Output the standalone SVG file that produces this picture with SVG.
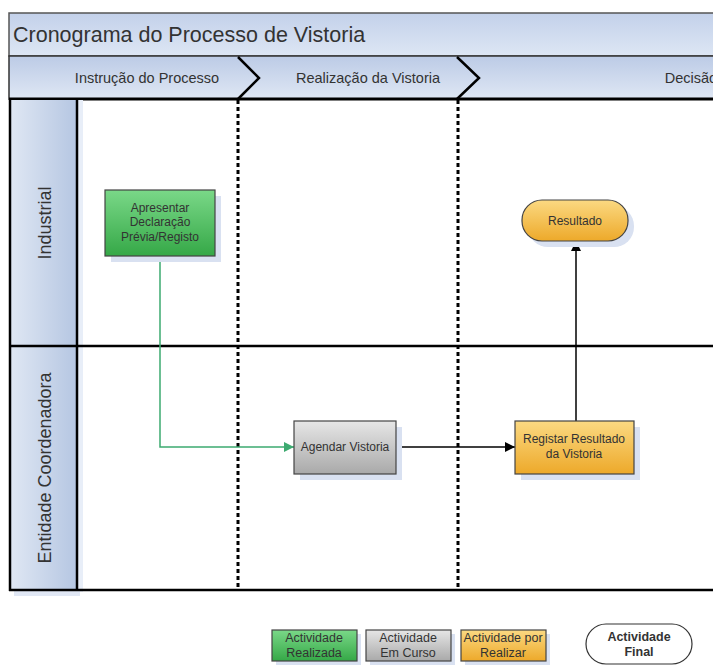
<svg xmlns="http://www.w3.org/2000/svg" width="713" height="666" viewBox="0 0 713 666">
<defs>
<linearGradient id="gTitle" x1="0" y1="0" x2="0" y2="1"><stop offset="0" stop-color="#c3d1ea"/><stop offset="1" stop-color="#dde6f4"/></linearGradient>
<linearGradient id="gPhase" x1="0" y1="0" x2="0" y2="1"><stop offset="0" stop-color="#bccbe6"/><stop offset="1" stop-color="#dfe7f4"/></linearGradient>
<linearGradient id="gLane" x1="0" y1="0" x2="1" y2="0"><stop offset="0" stop-color="#dfe7f3"/><stop offset="1" stop-color="#b5c6e2"/></linearGradient>
<linearGradient id="gGreen" x1="0" y1="0" x2="0" y2="1"><stop offset="0" stop-color="#7ad888"/><stop offset="1" stop-color="#35a847"/></linearGradient>
<linearGradient id="gGray" x1="0" y1="0" x2="0" y2="1"><stop offset="0" stop-color="#e6e6e6"/><stop offset="1" stop-color="#a9a9a9"/></linearGradient>
<linearGradient id="gOrange" x1="0" y1="0" x2="0" y2="1"><stop offset="0" stop-color="#fbd982"/><stop offset="1" stop-color="#eda92a"/></linearGradient>
<marker id="aBlack" viewBox="0 0 10 10" refX="10" refY="5" markerWidth="10" markerHeight="10" markerUnits="userSpaceOnUse" orient="auto"><path d="M0,0 L10,5 L0,10 z" fill="#000"/></marker>
<marker id="aGreen" viewBox="0 0 10 10" refX="10" refY="5" markerWidth="10" markerHeight="10" markerUnits="userSpaceOnUse" orient="auto"><path d="M0,0 L10,5 L0,10 z" fill="#3daa70"/></marker>
</defs>
<style>
text{font-family:"Liberation Sans",Arial,sans-serif;fill:#333;}
.node{font-size:12px;text-anchor:middle;}
.phase{font-size:14.5px;text-anchor:middle;fill:#333;}
.lane{font-size:18px;text-anchor:middle;fill:#333;}
.shadow{fill:#d9e1f1;}
.box{stroke:#444;stroke-width:1.2;}
.lanel{stroke:#000;stroke-width:2.5;fill:none;}
.sep{stroke:#000;stroke-width:3;stroke-dasharray:4,3;fill:none;}
.leg{font-size:12.5px;text-anchor:middle;}
</style>
<rect width="713" height="666" fill="#fff"/>

<g id="title">
<rect x="9" y="13" width="720" height="43" fill="url(#gTitle)" stroke="#555" stroke-width="1.5"/>
<text x="13" y="42" font-size="21.5" fill="#222">Cronograma do Processo de Vistoria</text>
</g>

<g id="phases">
<rect x="9" y="56" width="720" height="43" fill="url(#gPhase)" stroke="#333" stroke-width="1.5"/>
<path d="M238,57 L259,78 L238,99" fill="none" stroke="#000" stroke-width="2.5"/>
<path d="M457,57 L479,78 L457,99" fill="none" stroke="#000" stroke-width="2.5"/>
<text class="phase" x="147" y="83">Instrução do Processo</text>
<text class="phase" x="368" y="83">Realização da Vistoria</text>
<text class="phase" x="691" y="83">Decisão</text>
<line x1="9" y1="99" x2="713" y2="99" stroke="#000" stroke-width="3"/>
</g>

<g id="lanes">
<rect x="77" y="100" width="6" height="492" fill="#e8eef8"/>
<rect x="11" y="100" width="66" height="490" fill="url(#gLane)"/>
<rect x="14" y="590" width="66" height="6" fill="#e0e7f4"/>
<line class="lanel" x1="10" y1="99" x2="10" y2="591"/>
<line class="lanel" x1="77" y1="99" x2="77" y2="591"/>
<line class="lanel" x1="9" y1="346" x2="713" y2="346"/>
<line class="lanel" x1="9" y1="590" x2="713" y2="590"/>
<text class="lane" transform="translate(51,223) rotate(-90)">Industrial</text>
<text class="lane" transform="translate(51,468) rotate(-90)">Entidade Coordenadora</text>
</g>

<g id="separators">
<line class="sep" x1="238" y1="100" x2="238" y2="590"/>
<line class="sep" x1="458" y1="100" x2="458" y2="590"/>
</g>

<g id="connectors">
<path d="M160,256 L160,447 L294,447" fill="none" stroke="#3daa70" stroke-width="1.5" marker-end="url(#aGreen)"/>
<path d="M396,447 L515,447" fill="none" stroke="#000" stroke-width="1.5" marker-end="url(#aBlack)"/>
<path d="M576,421 L576,241" fill="none" stroke="#000" stroke-width="1.5" marker-end="url(#aBlack)"/>
</g>

<g id="n-apresentar">
<rect class="shadow" x="111" y="196" width="110" height="66"/>
<rect class="box" x="105" y="190" width="110" height="66" fill="url(#gGreen)"/>
<text class="node" x="160" y="212">Apresentar</text>
<text class="node" x="160" y="226">Declaração</text>
<text class="node" x="160" y="241">Prévia/Registo</text>
</g>

<g id="n-resultado">
<rect class="shadow" x="528" y="206" width="106" height="41" rx="20"/>
<rect class="box" x="522" y="200" width="106" height="41" rx="20" fill="url(#gOrange)"/>
<text class="node" x="575" y="225">Resultado</text>
</g>

<g id="n-agendar">
<rect class="shadow" x="300" y="427" width="102" height="53"/>
<rect class="box" x="294" y="421" width="102" height="53" fill="url(#gGray)"/>
<text class="node" x="345" y="451">Agendar Vistoria</text>
</g>

<g id="n-registar">
<rect class="shadow" x="521" y="427" width="119" height="53"/>
<rect class="box" x="515" y="421" width="119" height="53" fill="url(#gOrange)"/>
<text class="node" x="574" y="443">Registar Resultado</text>
<text class="node" x="574" y="458">da Vistoria</text>
</g>

<g id="legend">
<rect class="shadow" x="276" y="634" width="85" height="31"/>
<rect class="box" x="272" y="630" width="85" height="31" fill="url(#gGreen)"/>
<text class="leg" x="314" y="642">Actividade</text>
<text class="leg" x="314" y="657">Realizada</text>
<rect class="shadow" x="370" y="634" width="85" height="31"/>
<rect class="box" x="366" y="630" width="85" height="31" fill="url(#gGray)"/>
<text class="leg" x="408" y="642">Actividade</text>
<text class="leg" x="408" y="657">Em Curso</text>
<rect class="shadow" x="465" y="634" width="85" height="31"/>
<rect class="box" x="461" y="630" width="85" height="31" fill="url(#gOrange)"/>
<text class="leg" x="503" y="642">Actividade por</text>
<text class="leg" x="503" y="657">Realizar</text>
<rect x="586" y="624" width="106" height="40" rx="20" fill="#fff" stroke="#333" stroke-width="1.2"/>
<text class="leg" x="639" y="641" font-weight="bold" fill="#222">Actividade</text>
<text class="leg" x="639" y="656" font-weight="bold" fill="#222">Final</text>
</g>
</svg>
